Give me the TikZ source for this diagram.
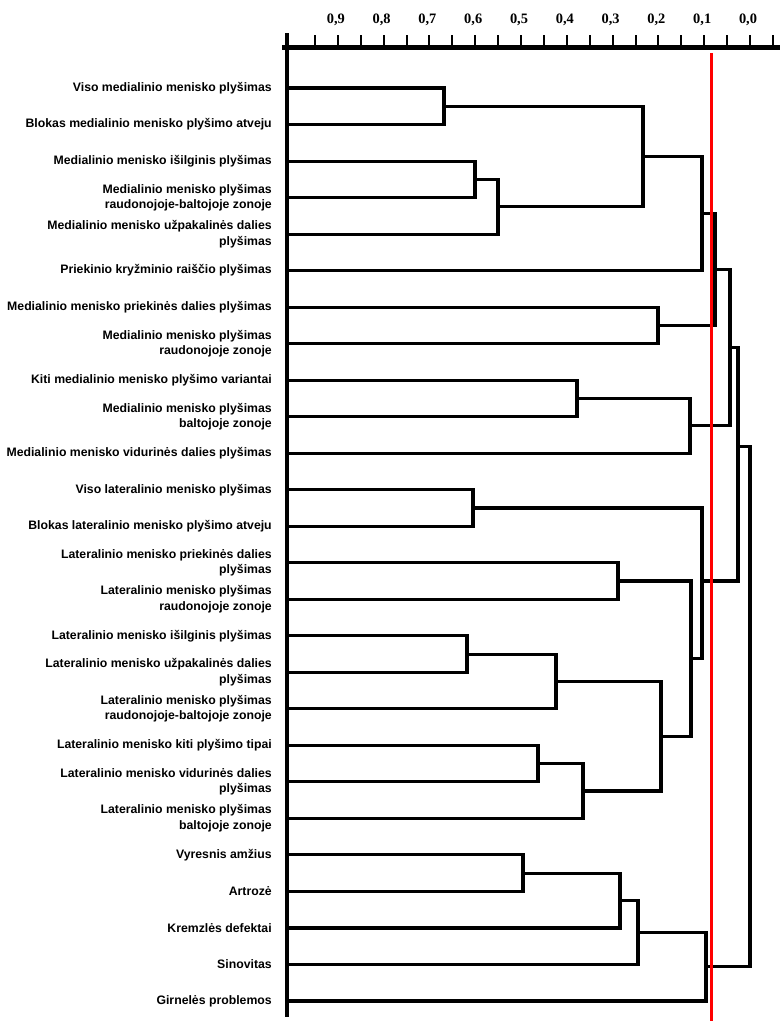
\documentclass[tikz,border=0pt]{standalone}
\usepackage{fontspec}
\setmainfont{Liberation Serif}
\newfontfamily\labelfont{Liberation Sans}

\begin{document}
\begin{tikzpicture}[x=0.75pt, y=-0.75pt,
  every node/.style={inner sep=0pt},
  leaf/.style={anchor=east, align=right, font=\labelfont\bfseries\fontsize{9.2}{11.75}\selectfont},
  branch/.style={line width=2.3pt},
  axistick/.style={line width=1.5pt}]
	\useasboundingbox (0,0) rectangle (780,1021);
	% distance axis
	\draw[line width=3.5pt] (282,47.5) -- (780,47.5);
	\foreach \k in {-1,...,19} {\draw[axistick] ({750-22.9*\k},35) -- ({750-22.9*\k},46);}
	\foreach \d in {0,...,9} {\node[font=\bfseries\fontsize{10.8}{12}\selectfont] (t\d) at ({748-45.8*\d},20) {0,\d};}
	\draw[branch] (287,33) -- (287,1017);
	% leaves, one per row
	\begin{scope}[shift={(0,88)}, y=-27.39pt]
	\foreach \txt [count=\i from 0] in {
		{Viso medialinio menisko plyšimas},
		{Blokas medialinio menisko plyšimo atveju},
		{Medialinio menisko išilginis plyšimas},
		{Medialinio menisko plyšimas\\raudonojoje-baltojoje zonoje},
		{Medialinio menisko užpakalinės dalies\\plyšimas},
		{Priekinio kryžminio raiščio plyšimas},
		{Medialinio menisko priekinės dalies plyšimas},
		{Medialinio menisko plyšimas\\raudonojoje zonoje},
		{Kiti medialinio menisko plyšimo variantai},
		{Medialinio menisko plyšimas\\baltojoje zonoje},
		{Medialinio menisko vidurinės dalies plyšimas},
		{Viso lateralinio menisko plyšimas},
		{Blokas lateralinio menisko plyšimo atveju},
		{Lateralinio menisko priekinės dalies\\plyšimas},
		{Lateralinio menisko plyšimas\\raudonojoje zonoje},
		{Lateralinio menisko išilginis plyšimas},
		{Lateralinio menisko užpakalinės dalies\\plyšimas},
		{Lateralinio menisko plyšimas\\raudonojoje-baltojoje zonoje},
		{Lateralinio menisko kiti plyšimo tipai},
		{Lateralinio menisko vidurinės dalies\\plyšimas},
		{Lateralinio menisko plyšimas\\baltojoje zonoje},
		{Vyresnis amžius},
		{Artrozė},
		{Kremzlės defektai},
		{Sinovitas},
		{Girnelės problemos}} {
		\coordinate (p\i) at (287,\i);
		\node[leaf] (l\i) at (272,\i) {\txt};
	}
	% clusters: name/child/child/height/row
	\foreach \c/\a/\b/\x/\y in {
		c1/p0/p1/444/0.5, c2/p2/p3/475/2.5, c3/c2/p4/498/3.25, c4/c1/c3/643/1.875,
		c5/c4/p5/702/3.4375, c6/p6/p7/658/6.5, c7/c5/c6/715/4.96875,
		c8/p8/p9/577/8.5, c9/c8/p10/690/9.25, c10/c7/c9/730/7.11,
		c11/p11/p12/473/11.5, c12/p13/p14/618/13.5, c13/p15/p16/467/15.5,
		c14/c13/p17/556/16.25, c15/p18/p19/538/18.5, c16/c15/p20/583/19.25,
		c17/c14/c16/661/17.75, c18/c12/c17/691/15.625, c19/c11/c18/702/13.5,
		c20/c10/c19/738/9.82, c21/p21/p22/523/21.5, c22/c21/p23/620/22.25,
		c23/c22/p24/638/23.125, c24/c23/p25/706/24.0625, c25/c20/c24/750/16.94} {
		\coordinate (\c) at (\x,\y);
		\draw[branch] (\a) -| (\c) |- (\b);
	}
	\end{scope}
	% cut line
	\coordinate (cutT) at (711.7,53);
	\coordinate (cutB) at (711.7,1021);
	\draw[red, line width=2pt] (cutT) -- (cutB);
\end{tikzpicture}
\end{document}
